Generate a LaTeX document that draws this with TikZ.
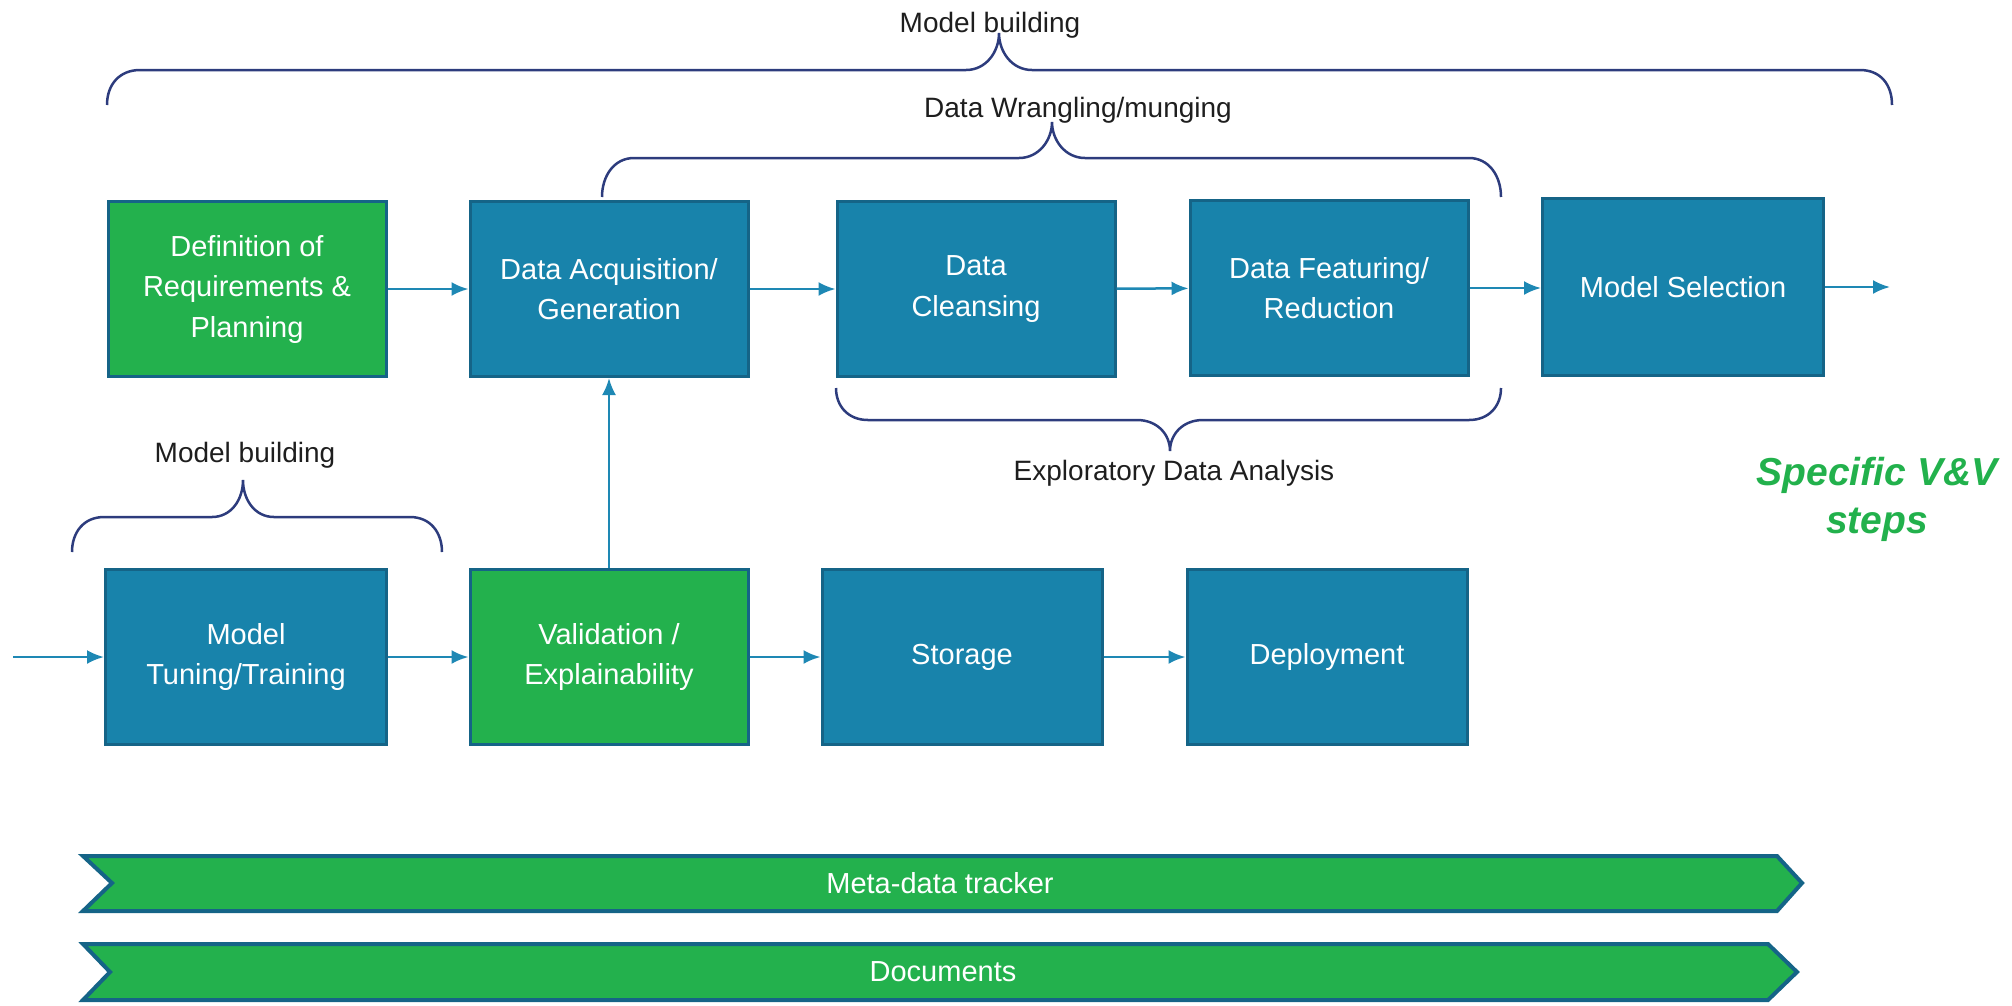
\documentclass[tikz,border=0pt]{standalone}
\usepackage{fontspec}
\setmainfont{Liberation Sans}
\usetikzlibrary{arrows.meta}
\definecolor{boxblue}{RGB}{24,131,171}
\definecolor{boxborder}{RGB}{21,100,135}
\definecolor{boxgreen}{RGB}{35,177,77}
\definecolor{arrowblue}{RGB}{30,136,180}
\definecolor{bracecol}{RGB}{45,60,125}
\definecolor{vvgreen}{RGB}{34,177,76}
\definecolor{labelcol}{RGB}{30,30,30}
\tikzset{
  stagebox/.style={draw=boxborder, line width=3pt, fill=boxblue, text=white,
    align=center, inner sep=0pt, font=\fontsize{29}{40.5}\selectfont,
    minimum width=278pt, minimum height=175pt},
  greenbox/.style={stagebox, fill=boxgreen},
  flow/.style={draw=arrowblue, line width=2.5pt, -{Latex[length=17pt,width=14pt]}},
  bracepath/.style={draw=bracecol, line width=2.5pt},
  bracelabel/.style={text=labelcol, font=\fontsize{28}{34}\selectfont, inner sep=0pt},
  ribbon/.style={draw=boxborder, line width=4pt, fill=boxgreen, line join=miter},
  ribbontext/.style={text=white, font=\fontsize{29}{34}\selectfont, inner sep=0pt}
}
\begin{document}
\begin{tikzpicture}[x=1pt, y=-1pt]
\useasboundingbox (0,0) rectangle (2012,1005);

% top row
\node[greenbox] (def) at (247,289) {Definition of\\Requirements \&\\Planning};
\node[stagebox] (da) at (609,289) {Data Acquisition/\\Generation};
\node[stagebox] (dc) at (976,289) {Data\\Cleansing};
\node[stagebox] (df) at (1329,288) {Data Featuring/\\Reduction};
\node[stagebox, minimum width=281pt, minimum height=177pt] (ms) at (1683,287) {Model Selection};
\coordinate (msout) at (1890,287);

% bottom row
\coordinate (mtin) at (13,657);
\node[stagebox, minimum width=281pt] (mt) at (246,657) {Model\\Tuning/Training};
\node[greenbox] (val) at (609,657) {Validation /\\Explainability};
\node[stagebox, minimum width=280pt] (st) at (962,657) {Storage};
\node[stagebox, minimum width=280pt] (dep) at (1327,657) {Deployment};

% connectors
\draw[flow] (def) -- (da);
\draw[flow] (da) -- (dc);
\draw[flow] (dc) -- (df);
\draw[flow] (df.east) -- (ms.west |- df.east);
\draw[flow] (ms) -- (msout);
\draw[flow] (mtin) -- (mt);
\draw[flow] (mt) -- (val);
\draw[flow] (val) -- (st);
\draw[flow] (st) -- (dep);
\draw[flow] (val) -- (da);

% braces
\draw[bracepath] (107,105) .. controls (107,84) and (120,70) .. (140,70) -- (966,70)
  .. controls (986,70) and (999,52) .. (999,33)
  .. controls (999,52) and (1012,70) .. (1032,70) -- (1860,70)
  .. controls (1880,70) and (1892,84) .. (1892,105);
\node[bracelabel] (lbtop) at (990,25) {Model building};

\draw[bracepath] (602,197) .. controls (602,176) and (614,158) .. (634,158) -- (1019,158)
  .. controls (1039,158) and (1052,140) .. (1052,122)
  .. controls (1052,140) and (1065,158) .. (1085,158) -- (1469,158)
  .. controls (1489,158) and (1501,176) .. (1501,197);
\node[bracelabel] (lbdw) at (1078,110) {Data Wrangling/munging};

\draw[bracepath] (836,388) .. controls (836,406) and (848,420) .. (868,420) -- (1137,420)
  .. controls (1157,420) and (1170,434) .. (1170,451)
  .. controls (1170,434) and (1183,420) .. (1203,420) -- (1469,420)
  .. controls (1489,420) and (1501,406) .. (1501,388);
\node[bracelabel] (lbeda) at (1174,473) {Exploratory Data Analysis};

\draw[bracepath] (72,552) .. controls (72,532) and (84,517) .. (104,517) -- (212,517)
  .. controls (231,517) and (243,500) .. (243,480)
  .. controls (243,500) and (255,517) .. (274,517) -- (410,517)
  .. controls (430,517) and (442,532) .. (442,552);
\node[bracelabel] (lbmb) at (245,455) {Model building};

% V&V note
\node[text=vvgreen, align=center, inner sep=0pt,
  font=\fontsize{39}{48}\selectfont\bfseries\itshape] (vv) at (1877,499) {Specific V\&V\\steps};

% ribbons
\draw[ribbon] (83,856) -- (1777,856) -- (1802,883) -- (1777,911) -- (83,911) -- (112,883) -- cycle;
\node[ribbontext] (meta) at (940,883) {Meta-data tracker};
\draw[ribbon] (83,944) -- (1768,944) -- (1797,972) -- (1768,1000) -- (83,1000) -- (110,972) -- cycle;
\node[ribbontext] (docs) at (943,972) {Documents};
\end{tikzpicture}
\end{document}
